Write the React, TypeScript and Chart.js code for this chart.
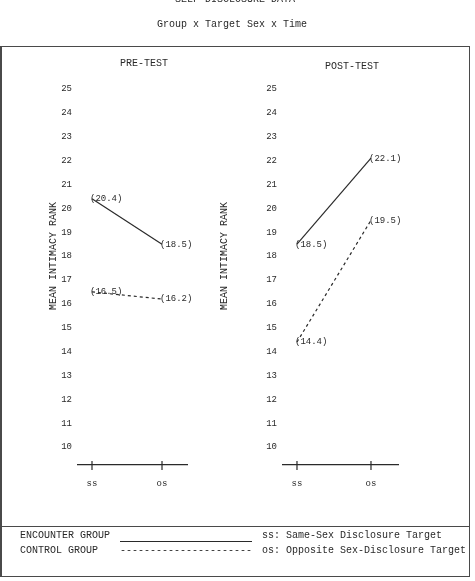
import React, { useEffect, useRef } from 'react';
import { Chart, registerables } from 'chart.js';

Chart.register(...registerables);

// ---- data ----
const targets = ['ss', 'os'];
const yTickValues = [10, 11, 12, 13, 14, 15, 16, 17, 18, 19, 20, 21, 22, 23, 24, 25];
const preEncounter = [20.4, 18.5];
const preControl = [16.5, 16.2];
const postEncounter = [18.5, 22.1];
const postControl = [14.4, 19.5];
const panelTitles = ['PRE-TEST', 'POST-TEST'];
const groupNames = ['ENCOUNTER GROUP', 'CONTROL GROUP'];
const targetNotes = ['ss: Same-Sex Disclosure Target', 'os: Opposite Sex-Disclosure Target'];
const yAxisTitle = 'MEAN INTIMACY RANK';
const mainTitle = 'SELF-DISCLOSURE DATA';
const subTitle = 'Group x Target Sex x Time';

const FONT = "'Liberation Mono', 'Courier New', monospace";
const INK = '#2a2a2a';
const LINE = '#4a4a4a';

const tickMarks = {
  id: 'tickMarks',
  afterDraw(chart: any) {
    const { ctx, chartArea, scales } = chart;
    const x = scales.x;
    ctx.save();
    ctx.strokeStyle = INK;
    ctx.lineWidth = 1.2;
    x.ticks.forEach((t: any) => {
      const px = x.getPixelForValue(t.value);
      ctx.beginPath();
      ctx.moveTo(px, chartArea.bottom - 4);
      ctx.lineTo(px, chartArea.bottom + 5);
      ctx.stroke();
    });
    ctx.restore();
  },
};

const valueLabels = {
  id: 'valueLabels',
  afterDatasetsDraw(chart: any) {
    const { ctx } = chart;
    ctx.save();
    ctx.font = `9px ${FONT}`;
    ctx.fillStyle = INK;
    ctx.textAlign = 'left';
    ctx.textBaseline = 'middle';
    chart.data.datasets.forEach((ds: any, di: number) => {
      const meta = chart.getDatasetMeta(di);
      meta.data.forEach((pt: any, i: number) => {
        const v = ds.data[i].y;
        ctx.fillText(`(${v.toFixed(1)})`, pt.x - 2, pt.y);
      });
    });
    ctx.restore();
  },
};

type PanelProps = {
  left: number;
  top: number;
  width: number;
  height: number;
  padTop: number;
  padRight: number;
  axisWidth: number;
  axisHeight: number;
  xMin: number;
  xMax: number;
  encounter: number[];
  control: number[];
};

function Panel(p: PanelProps) {
  const ref = useRef<HTMLCanvasElement | null>(null);
  useEffect(() => {
    if (!ref.current) return;
    const chart = new Chart(ref.current, {
      type: 'line',
      data: {
        datasets: [
          {
            label: groupNames[0],
            data: p.encounter.map((y, i) => ({ x: i, y })),
            borderColor: INK,
            borderWidth: 1.2,
            pointRadius: 0,
            tension: 0,
          },
          {
            label: groupNames[1],
            data: p.control.map((y, i) => ({ x: i, y })),
            borderColor: INK,
            borderWidth: 1.2,
            borderDash: [3, 3],
            pointRadius: 0,
            tension: 0,
          },
        ],
      },
      options: {
        responsive: false,
        animation: false,
        devicePixelRatio: 1,
        layout: { padding: { top: p.padTop, right: p.padRight, left: 0, bottom: 0 } },
        plugins: {
          legend: { display: false },
          tooltip: { enabled: false },
          title: { display: false },
        },
        scales: {
          x: {
            type: 'linear',
            bounds: 'data',
            min: p.xMin,
            max: p.xMax,
            afterBuildTicks: (s: any) => {
              s.ticks = targets.map((_, i) => ({ value: i }));
            },
            afterFit: (s: any) => {
              s.height = p.axisHeight;
            },
            grid: { display: false, drawTicks: false },
            border: { display: true, color: INK, width: 1.2 },
            ticks: {
              padding: 13,
              autoSkip: false,
              maxRotation: 0,
              font: { family: FONT, size: 9 },
              color: INK,
              callback: (v: any) => targets[Math.round(Number(v))] ?? '',
            },
          },
          y: {
            type: 'linear',
            bounds: 'data',
            min: 9.25,
            max: 25.25,
            afterBuildTicks: (s: any) => {
              s.ticks = yTickValues.map((v) => ({ value: v }));
            },
            afterFit: (s: any) => {
              s.width = p.axisWidth;
            },
            grid: { display: false, drawTicks: false },
            border: { display: false },
            ticks: {
              padding: 6,
              autoSkip: false,
              font: { family: FONT, size: 9 },
              color: INK,
            },
            title: {
              display: true,
              text: '      ' + yAxisTitle,
              font: { family: FONT, size: 10 },
              color: INK,
              padding: { top: 7, bottom: 0 },
            },
          },
        },
      } as any,
      plugins: [tickMarks, valueLabels],
    });
    return () => chart.destroy();
  }, []);
  return (
    <canvas
      ref={ref}
      width={p.width}
      height={p.height}
      style={{ position: 'absolute', left: p.left, top: p.top, width: p.width, height: p.height }}
    />
  );
}

function Txt(props: { x: number; y: number; center?: boolean; children: React.ReactNode; size?: number }) {
  const size = props.size ?? 10;
  const style: React.CSSProperties = {
    position: 'absolute',
    top: props.y - 6,
    lineHeight: '12px',
    fontSize: size,
    fontFamily: FONT,
    color: INK,
    whiteSpace: 'pre',
  };
  if (props.center) {
    style.left = props.x - 150;
    style.width = 300;
    style.textAlign = 'center';
  } else {
    style.left = props.x;
  }
  return <div style={style}>{props.children}</div>;
}

export default function App() {
  return (
    <div
      style={{
        position: 'fixed',
        left: 0,
        top: 0,
        width: 475,
        height: 581,
        background: '#ffffff',
        overflow: 'hidden',
        willChange: 'transform',
      }}
    >
      <Txt x={235} y={0} center>{mainTitle}</Txt>
      <Txt x={232} y={25} center>{subTitle}</Txt>

      {/* plot frame */}
      <div
        style={{
          position: 'absolute',
          left: 0,
          top: 46,
          width: 470,
          height: 481,
          boxSizing: 'border-box',
          borderTop: `1px solid ${LINE}`,
          borderRight: `1px solid ${LINE}`,
          borderBottom: `1px solid ${LINE}`,
          borderLeft: `2px solid ${LINE}`,
        }}
      />
      {/* legend frame */}
      <div
        style={{
          position: 'absolute',
          left: 0,
          top: 526,
          width: 470,
          height: 51,
          boxSizing: 'border-box',
          borderTop: `1px solid ${LINE}`,
          borderRight: `1px solid ${LINE}`,
          borderBottom: `1px solid ${LINE}`,
          borderLeft: `2px solid ${LINE}`,
        }}
      />

      <Txt x={144} y={64} center>{panelTitles[0]}</Txt>
      <Txt x={352} y={67} center>{panelTitles[1]}</Txt>

      <Panel
        left={40}
        top={70}
        width={170}
        height={430}
        padTop={13}
        padRight={23}
        axisWidth={38}
        axisHeight={35}
        xMin={-0.2}
        xMax={1.357}
        encounter={preEncounter}
        control={preControl}
      />
      <Panel
        left={211}
        top={70}
        width={210}
        height={430}
        padTop={13}
        padRight={23}
        axisWidth={72}
        axisHeight={35}
        xMin={-0.189}
        xMax={1.365}
        encounter={postEncounter}
        control={postControl}
      />

      {/* legend */}
      <Txt x={20} y={536}>{groupNames[0]}</Txt>
      <Txt x={20} y={551}>{groupNames[1]}</Txt>
      <div
        style={{
          position: 'absolute',
          left: 120,
          top: 541,
          width: 132,
          height: 0,
          borderTop: `1px solid ${INK}`,
        }}
      />
      <Txt x={120} y={551}>{'----------------------'}</Txt>
      <Txt x={262} y={536}>{targetNotes[0]}</Txt>
      <Txt x={262} y={551}>{targetNotes[1]}</Txt>
    </div>
  );
}
